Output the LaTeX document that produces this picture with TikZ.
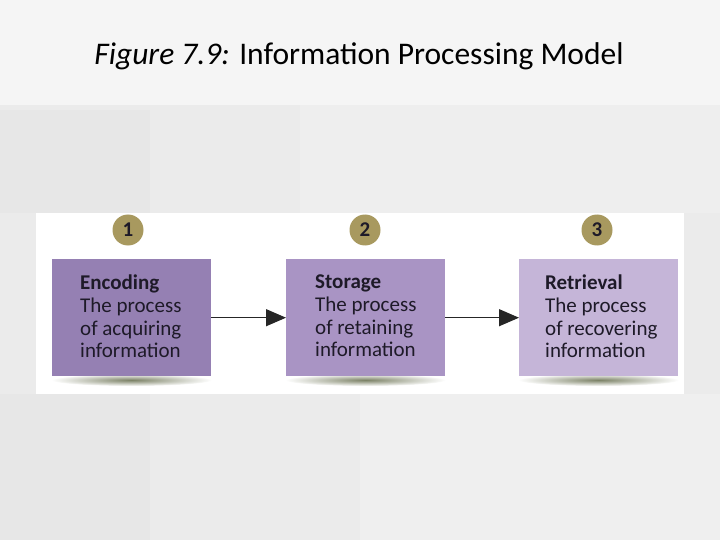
\documentclass[tikz,border=0pt]{standalone}
\usepackage{fontspec}
\setmainfont{Carlito}
\usetikzlibrary{arrows.meta}
\definecolor{bgc}{HTML}{EBEBEB}
\definecolor{boxA}{HTML}{9580B3}
\definecolor{boxB}{HTML}{A994C4}
\definecolor{boxC}{HTML}{C5B5D8}
\definecolor{olive}{HTML}{A8995F}
\definecolor{shad}{HTML}{6E7556}
\definecolor{txt}{HTML}{1E1A28}
\tikzset{
  stagebox/.style={minimum width=159pt, minimum height=117pt, inner sep=0pt, anchor=north west},
  numdot/.style={circle, fill=olive, minimum size=31pt, inner sep=0pt, font=\fontsize{21}{21}\selectfont\bfseries, text=txt},
  stagetext/.style={anchor=north west, align=left, text=txt, inner sep=0pt, font=\fontsize{21}{22.6}\selectfont},
  flow/.style={draw=black!85, line width=1.2pt, -{Triangle[length=20pt,width=17pt]}},
}
\begin{document}
\begin{tikzpicture}[x=1pt,y=-1pt]
\useasboundingbox (0,0) rectangle (720,540);
\fill[bgc] (0,0) rectangle (720,540);
% faint background shapes
\fill[white,opacity=0.5] (0,0) rectangle (720,105);
\fill[white,opacity=0.18] (300,105) rectangle (720,213);
\fill[white,opacity=0.22] (360,394) rectangle (720,540);
\fill[black,opacity=0.015] (0,110) rectangle (150,213);
\fill[black,opacity=0.015] (0,394) rectangle (150,540);
% title
\node[text=black, font=\fontsize{31.5}{31.5}\selectfont] (title) at (359,56) {\textit{Figure 7.9:} Information Processing Model};
% panel
\fill[white] (36,213) rectangle (684,394);
% shadows
\foreach \x in {52,286,519}{
  \shade[inner color=shad, outer color=white, opacity=0.9] (\x+79.5,380) ellipse [x radius=80pt, y radius=6pt];
}
% boxes
\node[stagebox, fill=boxA] (b1) at (52,259) {};
\node[stagebox, fill=boxB] (b2) at (286,259) {};
\node[stagebox, fill=boxC] (b3) at (519,259) {};
% numbers
\node[numdot] (n1) at (128,230) {1};
\node[numdot] (n2) at (365,230) {2};
\node[numdot] (n3) at (597,230) {3};
% texts
\node[stagetext] (t1) at (80,275) {\textbf{Encoding}\\The process\\of acquiring\\information};
\node[stagetext] (t2) at (315,275) {\textbf{Storage}\\The process\\of retaining\\information};
\node[stagetext] (t3) at (545,275) {\textbf{Retrieval}\\The process\\of recovering\\information};
% arrows
\draw[flow] (b1.east) -- (b2.west);
\draw[flow] (b2.east) -- (b3.west);
\end{tikzpicture}
\end{document}
